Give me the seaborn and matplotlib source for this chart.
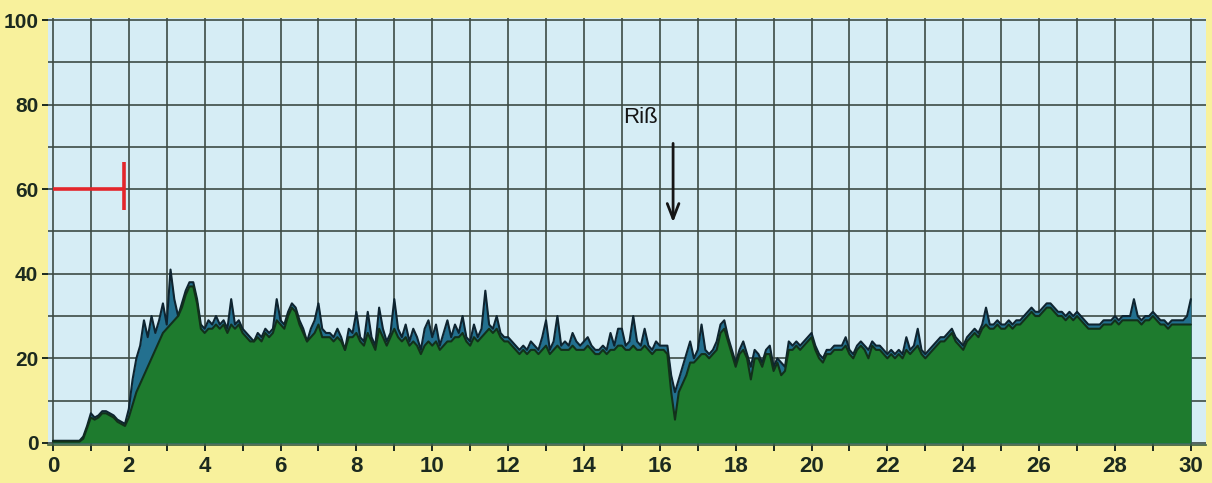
import numpy as np
import pandas as pd
import matplotlib
matplotlib.use("Agg")
import matplotlib.pyplot as plt
import seaborn as sns

# Sample times (one reading every 0.1 units)
time = np.round(np.arange(0, 30.0001, 0.1), 1)

# Upper trace (blue) and lower trace (green)
upper = [
    0.5, 0.5, 0.5, 0.5, 0.5, 0.5, 0.5, 0.5, 1.5, 4,
    7, 6, 6.5, 7.5, 7.5, 7, 6.5, 5.5, 5, 4.5,
    8, 15, 20, 23, 29, 25, 30, 26, 29, 33,
    28, 41, 34, 30, 33, 36, 38, 38, 34, 28,
    27, 29, 28, 30, 28, 29, 27, 34, 28, 29,
    27, 26, 25, 24, 26, 25, 27, 26, 27, 34,
    29, 28, 31, 33, 32, 29, 27, 24, 27, 29,
    33, 27, 26, 26, 25, 27, 25, 22, 27, 26,
    31, 25, 24, 31, 25, 23, 32, 27, 24, 26,
    34, 27, 25, 28, 24, 27, 25, 22, 27, 29,
    25, 28, 23, 26, 29, 25, 28, 26, 30, 25,
    24, 28, 25, 27, 36, 28, 27, 30, 26, 25,
    25, 24, 23, 22, 23, 22, 24, 23, 22, 25,
    29, 22, 24, 30, 23, 24, 23, 26, 24, 23,
    24, 25, 23, 22, 22, 23, 22, 26, 23, 27,
    27, 23, 24, 30, 24, 23, 27, 23, 22, 24,
    23, 23, 23, 16, 12, 15, 18, 21, 24, 20,
    22, 28, 22, 21, 22, 24, 28, 29, 25, 22,
    19, 22, 24, 21, 18, 22, 21, 19, 22, 23,
    18, 20, 19, 18, 24, 23, 24, 23, 24, 25,
    26, 23, 21, 20, 22, 22, 23, 23, 23, 25,
    22, 21, 23, 24, 23, 22, 24, 23, 23, 22,
    21, 22, 21, 22, 21, 25, 22, 23, 27, 22,
    21, 22, 23, 24, 25, 25, 26, 27, 25, 24,
    23, 25, 26, 27, 26, 28, 32, 28, 28, 29,
    28, 28, 29, 28, 29, 29, 30, 31, 32, 31,
    31, 32, 33, 33, 32, 31, 31, 30, 31, 30,
    31, 30, 29, 28, 28, 28, 28, 29, 29, 29,
    30, 29, 30, 30, 30, 34, 30, 29, 30, 30,
    31, 30, 29, 29, 28, 29, 29, 29, 29, 30,
    34,
]
lower = [
    0.3, 0.3, 0.3, 0.3, 0.3, 0.3, 0.3, 0.3, 1, 3.5,
    6, 5.5, 6, 7, 7, 6.5, 6, 5, 4.5, 4,
    6, 9, 12, 14, 16, 18, 20, 22, 24, 26,
    27, 28, 29, 30, 32, 35, 37, 37, 33, 27,
    26, 27, 27, 28, 27, 28, 26, 28, 27, 28,
    26, 25, 24, 24, 25, 24, 26, 25, 26, 29,
    28, 27, 30, 32, 31, 28, 26, 24, 25, 26,
    28, 25, 25, 25, 24, 25, 24, 22, 25, 25,
    26, 24, 23, 26, 24, 22, 27, 25, 23, 25,
    27, 25, 24, 25, 23, 24, 23, 21, 23, 24,
    23, 24, 22, 23, 24, 24, 25, 25, 26, 24,
    23, 25, 24, 25, 26, 27, 26, 27, 25, 24,
    24, 23, 22, 21, 22, 21, 22, 22, 21, 22,
    23, 21, 22, 23, 22, 22, 22, 23, 22, 22,
    22, 23, 22, 21, 21, 22, 21, 22, 22, 23,
    23, 22, 22, 23, 22, 22, 23, 22, 21, 22,
    22, 22, 21, 12, 5.5, 12, 14, 16, 19, 19,
    20, 21, 21, 20, 21, 22, 26, 27, 24, 21,
    18, 21, 22, 20, 15, 20, 20, 18, 21, 21,
    17, 19, 16, 17, 22, 22, 23, 22, 23, 24,
    25, 22, 20, 19, 21, 21, 22, 22, 22, 23,
    21, 20, 22, 23, 22, 20, 23, 22, 22, 21,
    20, 21, 20, 21, 20, 22, 21, 22, 23, 21,
    20, 21, 22, 23, 24, 24, 25, 26, 24, 23,
    22, 24, 25, 26, 25, 27, 28, 27, 27, 28,
    27, 27, 28, 27, 28, 28, 29, 30, 31, 30,
    30, 31, 32, 32, 31, 30, 30, 29, 30, 29,
    30, 29, 28, 27, 27, 27, 27, 28, 28, 28,
    29, 28, 29, 29, 29, 29, 29, 28, 29, 29,
    30, 29, 28, 28, 27, 28, 28, 28, 28, 28,
    28,
]

x_ticks = list(range(0, 31, 2))
y_ticks = list(range(0, 101, 20))

limit_level = 60
limit_end = 1.87
crack_time = 16.35
crack_label = "Riß"

df = pd.DataFrame({"t": time, "upper": upper, "lower": lower})

YELLOW = "#f8f19c"
SKY = "#d6edf5"
GRID = "#3d4b45"
GREEN = "#1e7b2e"
BLUE = "#23708f"
INK = "#1c2a1f"

sns.set_theme(style="white")
plt.rcParams["font.family"] = ["Liberation Sans", "DejaVu Sans"]

fig = plt.figure(figsize=(12.12, 4.83), dpi=100, facecolor=YELLOW)
ax = fig.add_axes([48 / 1212, 38 / 483, 1158 / 1212, 427 / 483])
ax.set_facecolor(SKY)

# Filled traces: blue behind, green in front
ax.fill_between(df["t"], df["upper"], color=BLUE, zorder=2, lw=0)
ax.fill_between(df["t"], df["lower"], color=GREEN, zorder=3, lw=0)
sns.lineplot(data=df, x="t", y="upper", ax=ax, color="#0e2430", lw=1.5, zorder=4)
sns.lineplot(data=df, x="t", y="lower", ax=ax, color="#12301a", lw=1.5, zorder=5)

# Limit marker at 60
ax.plot([0, limit_end], [limit_level, limit_level], color="#e3262b", lw=2.6,
        solid_capstyle="butt", zorder=6)
ax.plot([limit_end, limit_end], [limit_level - 5, limit_level + 6.5], color="#e3262b",
        lw=2.6, solid_capstyle="butt", zorder=6)

# Crack annotation
ax.annotate("", xy=(crack_time, 51.5), xytext=(crack_time, 71.5),
            arrowprops=dict(arrowstyle="->,head_length=0.9,head_width=0.35",
                            lw=2.0, color="#151515"), zorder=7)
ax.text(15.5, 77, crack_label, ha="center", va="center", fontsize=16,
        color="#151515", zorder=7)

ax.set_xlim(-0.13, 30.4)
ax.set_ylim(-0.5, 100.5)
ax.set_xticks(x_ticks)
ax.set_xticks(range(0, 31), minor=True)
ax.set_yticks(y_ticks)
ax.set_yticks(range(0, 101, 10), minor=True)
ax.set_xticklabels([str(v) for v in x_ticks])
ax.set_yticklabels([str(v) for v in y_ticks])

ax.grid(True, which="both", color=GRID, lw=1.2)
ax.set_axisbelow(True)

for side in ["top", "right", "left"]:
    ax.spines[side].set_visible(False)
ax.spines["bottom"].set_color("#3a5a3a")
ax.spines["bottom"].set_linewidth(1.2)

ax.tick_params(axis="x", which="both", bottom=True, length=4, width=1.4,
               color=INK, pad=4)
ax.tick_params(axis="y", which="major", left=True, length=4, width=1.4,
               color=INK, pad=3)
ax.tick_params(axis="y", which="minor", left=False)
for lab in ax.get_xticklabels():
    lab.set_fontweight("bold")
    lab.set_fontsize(16)
    lab.set_color(INK)
for lab in ax.get_yticklabels():
    lab.set_fontweight("bold")
    lab.set_fontsize(15)
    lab.set_color(INK)

ax.set_xlabel("")
ax.set_ylabel("")

fig.savefig("out.png", dpi=100, facecolor=YELLOW)
